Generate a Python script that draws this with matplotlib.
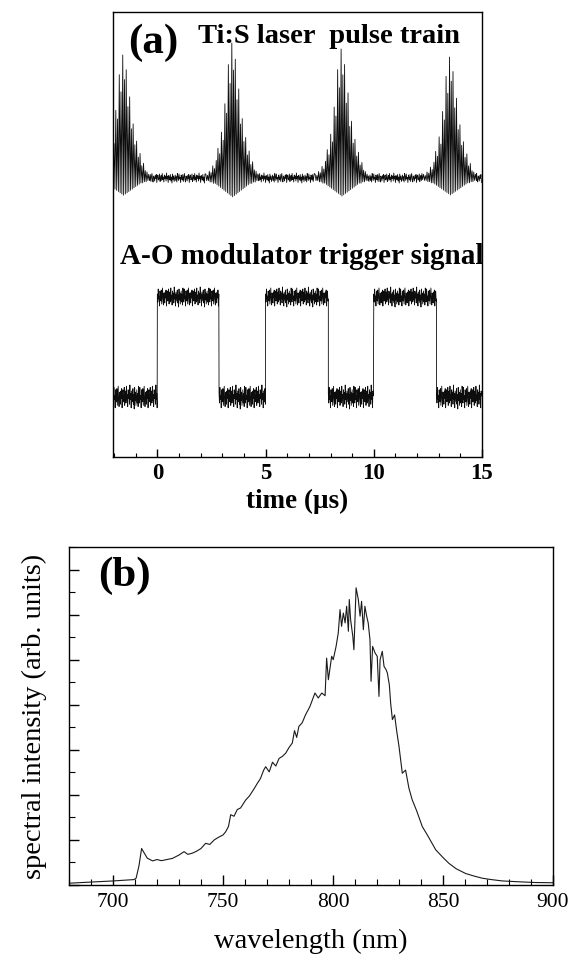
import numpy as np
import matplotlib
matplotlib.use('Agg')
import matplotlib.pyplot as plt
from matplotlib.ticker import MultipleLocator

plt.rcParams['font.family'] = ['Liberation Serif', 'DejaVu Serif']
plt.rcParams['mathtext.fontset'] = 'stix'

# ---------------- panel (a) data ----------------
# pulse train: centres (us) and peak heights above the baseline
pulse_centres = [-1.6, 3.44, 8.49, 13.5]
pulse_peaks = [1.23, 1.35, 1.29, 1.21]
pulse_base = 2.19

# spike pattern of one pulse (offset in us, relative height, relative dip)
spike_dt = [-1.20, -1.12, -1.04, -0.96, -0.88, -0.80, -0.72, -0.64, -0.56, -0.48,
            -0.40, -0.32, -0.24, -0.16, -0.08, 0.00, 0.08, 0.16, 0.24, 0.32,
            0.40, 0.48, 0.56, 0.64, 0.72, 0.80, 0.88, 0.96, 1.04, 1.12, 1.20]
spike_h = [0.03, 0.02, 0.05, 0.04, 0.09, 0.07, 0.13, 0.22, 0.18, 0.34,
           0.28, 0.55, 0.48, 0.84, 0.70, 1.00, 0.80, 0.88, 0.58, 0.66,
           0.40, 0.44, 0.27, 0.30, 0.17, 0.20, 0.10, 0.12, 0.06, 0.05, 0.03]
spike_dip = [-0.02, -0.02, -0.03, -0.03, -0.04, -0.04, -0.05, -0.06, -0.07, -0.08,
             -0.09, -0.10, -0.11, -0.12, -0.13, -0.14, -0.13, -0.12, -0.11, -0.10,
             -0.09, -0.08, -0.07, -0.06, -0.05, -0.04, -0.04, -0.03, -0.03, -0.02, -0.02]

# trigger signal: edges (us) and levels
rise_t = [0.0, 5.0, 10.0]
fall_t = [2.85, 7.9, 12.9]
trig_low = 0.0
trig_high = 1.0

jitter = [0.3, -0.5, 0.8, -0.2, 0.1, -0.9, 0.6, 0.0, -0.4, 0.7, -0.7, 0.2, 0.9, -0.3, -0.8,
          0.4, 0.1, -0.6, 0.5, -0.1, 0.7, -0.9, 0.3, 0.6, -0.4, -0.2, 0.8, -0.7, 0.0, 0.5,
          -0.5, 0.9, -0.3, 0.2, -0.8, 0.6, -0.1, 0.4, -0.6, 1.0, -0.2, 0.3, -0.9, 0.5, 0.1,
          -0.4, 0.7, -0.6, 0.2, -1.0, 0.8, -0.3, 0.4, -0.7, 0.0, 0.6, -0.5, 0.3, -0.8, 0.9]

t_start, t_end = -2.05, 15.0

# ---------------- panel (b) data ----------------
wavelength = [680, 690, 700, 709.5, 710.5, 711.8, 713.0, 714.0, 715.6, 718, 720, 722, 724, 727,
              730, 732.3, 734, 736, 738, 740, 742.1, 744, 746, 748, 750, 751.2, 752.5, 753.5,
              755, 756.5, 758, 760.3, 762, 764, 765.6, 767, 768.5, 769.4, 771, 772.5, 774,
              775.5, 776.9, 778.5, 780, 781.5, 782.5, 783.5, 784.5, 786, 787.5, 789.5, 791.8,
              793.3, 794.9, 796.4, 797.1, 797.9, 799.4, 800.1, 801.4, 802.4, 803.2, 803.9,
              804.7, 805.5, 806.2, 807.0, 807.4, 808.0, 809.0, 809.5, 810.5, 811.5, 812.3,
              813.0, 813.8, 814.5, 815.3, 816.0, 816.8, 817.3, 818.0, 819.1, 820.1, 820.9,
              821.4, 822.4, 823.2, 824.1, 824.7, 825.6, 826.2, 827.0, 828, 829, 830, 831.5,
              833, 834.5, 836, 838, 840.6, 843, 846.7, 850, 852.7, 856, 860.3, 864, 867.9,
              872, 877, 885, 892, 900]
intensity = [0.08, 0.13, 0.18, 0.24, 0.30, 0.85, 1.62, 1.45, 1.19, 1.07, 1.13, 1.08, 1.12, 1.18,
             1.33, 1.48, 1.36, 1.41, 1.50, 1.62, 1.85, 1.80, 2.00, 2.12, 2.22, 2.36, 2.60, 3.12,
             3.05, 3.35, 3.42, 3.77, 3.95, 4.25, 4.51, 4.72, 5.10, 5.25, 5.02, 5.45, 5.28,
             5.62, 5.70, 5.85, 6.10, 6.30, 6.85, 6.55, 7.04, 7.20, 7.55, 7.92, 8.52,
             8.30, 8.52, 8.40, 10.07, 9.11, 10.15, 10.00, 10.59, 11.19, 12.22, 11.48,
             12.07, 11.63, 12.37, 11.26, 12.67, 11.78, 11.04, 10.44, 13.19, 12.67, 11.93,
             12.59, 11.33, 12.37, 11.93, 11.63, 10.89, 9.04, 10.59, 10.30, 10.15, 8.37,
             10.00, 10.37, 9.70, 9.56, 9.41, 8.89, 8.08, 7.34, 7.55, 6.80, 6.15, 4.96,
             5.10, 4.30, 3.78, 3.30, 2.59, 2.20, 1.56, 1.22, 0.96, 0.72, 0.51, 0.40, 0.30,
             0.24, 0.18, 0.14, 0.11, 0.10]


def pulse_trace():
    # baseline with scope noise, then the spike bursts merged in
    tb = np.arange(t_start, t_end, 0.025)
    nb = np.resize(np.array(jitter), tb.size) * 0.05
    keep = np.ones(tb.size, bool)
    for c in pulse_centres:
        keep &= np.abs(tb - c) > 1.22
    ts = list(tb[keep])
    ys = list(pulse_base + nb[keep])
    for c, p in zip(pulse_centres, pulse_peaks):
        for dt, h, d in zip(spike_dt, spike_h, spike_dip):
            ts += [c + dt, c + dt + 0.04]
            ys += [pulse_base + h * p, pulse_base + d * p]
    ts = np.array(ts)
    ys = np.array(ys)
    order = np.argsort(ts, kind='stable')
    ts, ys = ts[order], ys[order]
    m = (ts >= t_start) & (ts <= t_end)
    return ts[m], ys[m]


def trigger_trace():
    edges = [t_start] + sorted(rise_t + fall_t) + [t_end]
    ts, ys = [], []
    level = trig_low
    for a, b in zip(edges[:-1], edges[1:]):
        tt = np.arange(a, b, 0.02)
        amp = 0.10 if level == trig_high else 0.12
        ts.append(tt)
        ys.append(level + np.resize(np.array(jitter), tt.size) * amp)
        level = trig_high if level == trig_low else trig_low
    return np.concatenate(ts), np.concatenate(ys)


fig = plt.figure(figsize=(5.8, 9.58), dpi=100)

# ---------------- (a) ----------------
ax1 = fig.add_axes([113 / 580, 1 - 457 / 958, 369 / 580, 445 / 958])
tp, yp = pulse_trace()
ax1.plot(tp, yp, color='0.05', lw=0.6)
tq, yq = trigger_trace()
ax1.plot(tq, yq, color='0.05', lw=0.6)

ax1.set_xlim(t_start, t_end)
ax1.set_ylim(-0.6, 3.85)
ax1.set_yticks([])
ax1.set_xticks([0, 5, 10, 15])
ax1.xaxis.set_minor_locator(MultipleLocator(1))
ax1.tick_params(axis='x', which='major', direction='in', length=6, width=1.0, pad=4)
ax1.tick_params(axis='x', which='minor', direction='in', length=3, width=0.8)
for lab in ax1.get_xticklabels():
    lab.set_fontweight('bold')
    lab.set_fontsize(16.5)
for s in ax1.spines.values():
    s.set_linewidth(1.0)
ax1.set_xlabel('time (μs)', fontsize=19.5, fontweight='bold', labelpad=4)

ax1.text(0.04, 0.93, '(a)', transform=ax1.transAxes, fontsize=31, fontweight='bold',
         ha='left', va='center')
ax1.text(0.23, 0.944, 'Ti:S laser  pulse train', transform=ax1.transAxes, fontsize=20.5,
         fontweight='bold', ha='left', va='center')
ax1.text(0.02, 0.45, 'A-O modulator trigger signal', transform=ax1.transAxes, fontsize=21,
         fontweight='bold', ha='left', va='center')

# ---------------- (b) ----------------
ax2 = fig.add_axes([69 / 580, 73 / 958, 484 / 580, 338 / 958])
ax2.plot(wavelength, intensity, color='0.1', lw=0.8)
ax2.set_xlim(680, 900)
ax2.set_ylim(0, 15)
ax2.xaxis.set_major_locator(MultipleLocator(50))
ax2.xaxis.set_minor_locator(MultipleLocator(10))
ax2.yaxis.set_major_locator(MultipleLocator(2))
ax2.yaxis.set_minor_locator(MultipleLocator(1))
ax2.tick_params(axis='both', which='major', direction='in', length=7, width=1.0, pad=6,
                labelsize=15.5)
ax2.tick_params(axis='both', which='minor', direction='in', length=4, width=0.8)
ax2.tick_params(axis='y', which='both', labelleft=False)
for s in ax2.spines.values():
    s.set_linewidth(1.0)
ax2.set_xlabel('wavelength (nm)', fontsize=20.5, labelpad=12)
ax2.set_ylabel('spectral intensity (arb. units)', fontsize=20.5, labelpad=16)
ax2.text(0.06, 0.915, '(b)', transform=ax2.transAxes, fontsize=31, fontweight='bold',
         ha='left', va='center')

fig.savefig('out.png', dpi=100)
